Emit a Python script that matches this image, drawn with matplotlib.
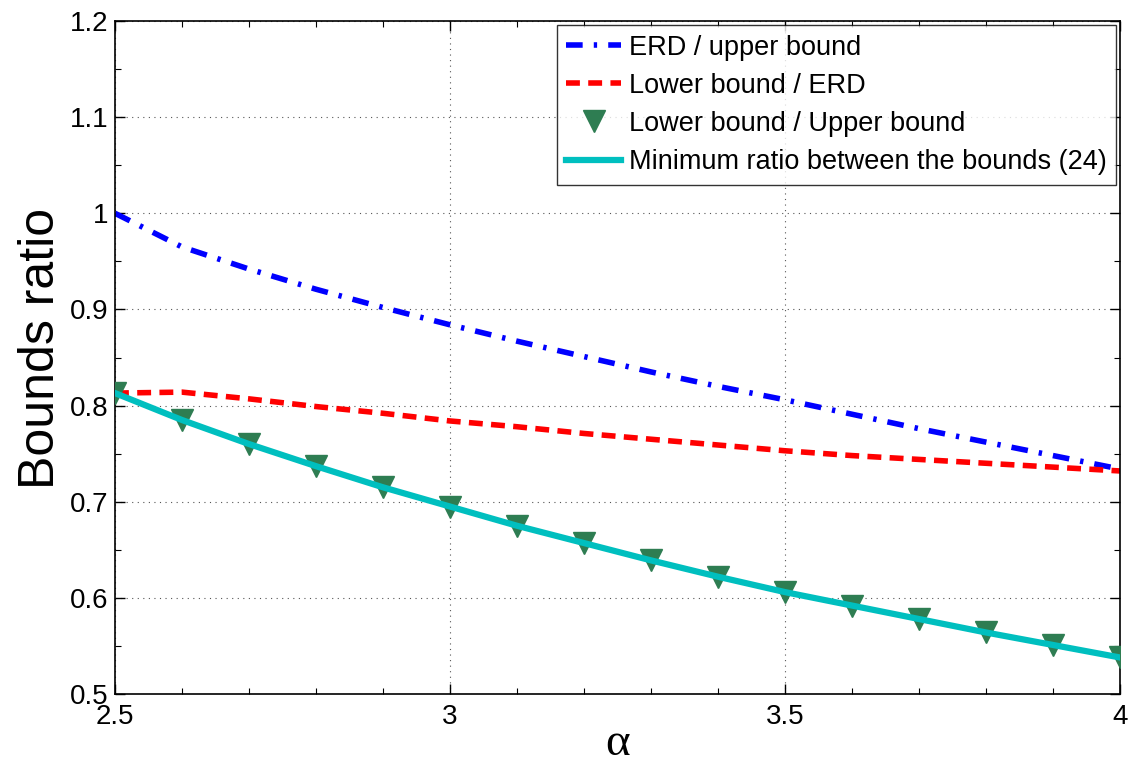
import matplotlib
matplotlib.use("Agg")
import matplotlib.pyplot as plt
from matplotlib.ticker import MultipleLocator

plt.rcParams['font.family'] = ['Liberation Sans', 'DejaVu Sans']

# alpha values and the ratios
alpha = [2.5, 2.6, 2.7, 2.8, 2.9, 3.0, 3.1, 3.2, 3.3, 3.4, 3.5, 3.6, 3.7, 3.8, 3.9, 4.0]
erd_upper = [1.000, 0.965, 0.942, 0.921, 0.902, 0.884, 0.867, 0.851, 0.835, 0.820,
             0.806, 0.791, 0.776, 0.762, 0.748, 0.734]
lower_erd = [0.813, 0.814, 0.807, 0.799, 0.792, 0.784, 0.778, 0.771, 0.765, 0.759,
             0.753, 0.748, 0.744, 0.740, 0.736, 0.732]
lower_upper = [0.813, 0.785, 0.760, 0.737, 0.715, 0.695, 0.675, 0.657, 0.639, 0.622,
               0.606, 0.592, 0.578, 0.564, 0.551, 0.538]
min_ratio = [0.813, 0.785, 0.760, 0.737, 0.715, 0.695, 0.675, 0.657, 0.639, 0.622,
             0.606, 0.592, 0.578, 0.564, 0.551, 0.538]

fig = plt.figure(figsize=(11.34, 7.69), dpi=100)
ax = fig.add_axes([0.1014, 0.0975, 0.8863, 0.8752])

ax.plot(alpha, erd_upper, color='blue', linewidth=4, dashes=(3, 2, 0.6, 2),
        label='ERD / upper bound')
ax.plot(alpha, lower_erd, color='red', linewidth=4, dashes=(2.5, 1.5),
        label='Lower bound / ERD')
ax.plot(alpha, lower_upper, linestyle='none', marker='v', markersize=16,
        color='#2E7D52', markeredgecolor='#2E7D52', label='Lower bound / Upper bound',
        zorder=3)
ax.plot(alpha, min_ratio, color='#00BFBF', linewidth=4.5,
        label='Minimum ratio between the bounds (24)', zorder=4)

ax.set_xlim(2.5, 4)
ax.set_ylim(0.5, 1.2)
ax.xaxis.set_major_locator(MultipleLocator(0.5))
ax.xaxis.set_minor_locator(MultipleLocator(0.1))
ax.yaxis.set_major_locator(MultipleLocator(0.1))
ax.yaxis.set_minor_locator(MultipleLocator(0.05))
ax.xaxis.set_major_formatter(plt.FuncFormatter(lambda v, p: f'{v:g}'))
ax.yaxis.set_major_formatter(plt.FuncFormatter(lambda v, p: f'{v:g}'))

ax.tick_params(which='both', direction='in', top=True, right=True, labelsize=20)
ax.tick_params(which='major', length=7, width=1)
ax.tick_params(which='minor', length=4, width=0.8)
ax.tick_params(axis='x', pad=7)
ax.tick_params(axis='y', pad=5)
for s in ax.spines.values():
    s.set_linewidth(1.2)

ax.grid(True, which='major', linestyle=(0, (1, 4)), color='#555555', linewidth=0.8)

ax.set_xlabel('α', fontsize=34, family=['Liberation Serif', 'DejaVu Serif'],
              labelpad=-5)
ax.set_ylabel('Bounds ratio', fontsize=36, labelpad=4)
ax.yaxis.label.set_y(0.513)

leg = ax.legend(loc='upper right', fontsize=19.5, frameon=True, fancybox=False,
                edgecolor='black', borderaxespad=0.15, handlelength=2.0,
                handletextpad=0.3, labelspacing=0.45, borderpad=0.35)
leg.get_frame().set_linewidth(1.0)

fig.savefig('out.png', dpi=100)
